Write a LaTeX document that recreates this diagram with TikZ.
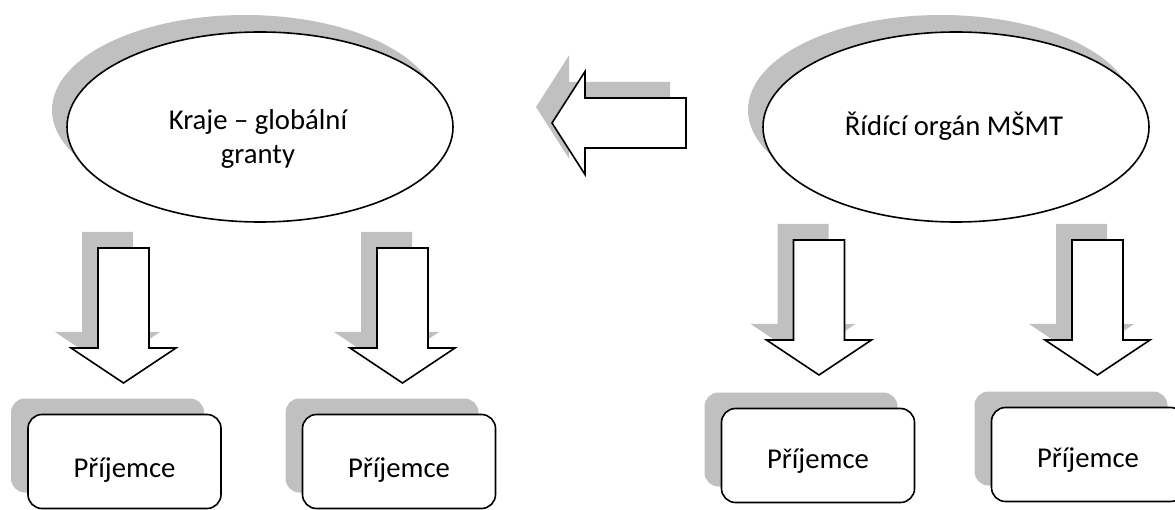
\documentclass[tikz,border=0pt]{standalone}
\usepackage{fontspec}
\setmainfont{Carlito}
\usetikzlibrary{shapes.geometric,shadows}
\definecolor{shade}{RGB}{192,192,192}
\tikzset{
  outl/.style={draw=black, line width=1.6pt, fill=white},
  oval/.style={outl, ellipse, minimum width=386pt, minimum height=190pt, inner sep=0pt,
    general shadow={fill=shade, shadow xshift=-15pt, shadow yshift=17pt}},
  recbox/.style={outl, rectangle, rounded corners=14pt, minimum width=193pt, minimum height=94pt, inner sep=0pt,
    general shadow={fill=shade, shadow xshift=-17pt, shadow yshift=16pt}},
  lbl/.style={font=\fontsize{28.7}{34.5}\selectfont, align=center, inner sep=0pt},
  pics/dnblk/.style={code={
    \path[fill=shade, shift={(-16,-16)}] (-25.5,0) -- (25.5,0) -- (25.5,100) -- (52.5,100) -- (0,135) -- (-52.5,100) -- (-25.5,100) -- cycle;
    \path[outl] (-25.5,0) -- (25.5,0) -- (25.5,100) -- (52.5,100) -- (0,135) -- (-52.5,100) -- (-25.5,100) -- cycle;
  }},
  pics/lfblk/.style={code={
    \path[fill=shade, shift={(-16,-16)}] (0,0) -- (33,-51.5) -- (33,-25) -- (134,-25) -- (134,25) -- (33,25) -- (33,51.5) -- cycle;
    \path[outl] (0,0) -- (33,-51.5) -- (33,-25) -- (134,-25) -- (134,25) -- (33,25) -- (33,51.5) -- cycle;
  }},
}
\begin{document}
\begin{tikzpicture}[x=1pt, y=-1pt]
  \useasboundingbox (0,0) rectangle (1175,510);
  \clip (0,0) rectangle (1175,510);

  % ellipses
  \node[oval] (kraje) at (260,127) {};
  \node[lbl] (krajet) at (258,139) {Kraje – globální\\granty};
  \node[oval] (ro) at (956,127) {};
  \node[lbl, anchor=base] (rot) at (954,136) {Řídící orgán MŠMT};

  % big left arrow
  \pic (bigarr) at (552,123) {lfblk};

  % down arrows
  \pic (a1) at (123.5,248) {dnblk};
  \pic (a2) at (402.5,248) {dnblk};
  \pic (a3) at (819,240) {dnblk};
  \pic (a4) at (1097.5,240) {dnblk};

  % boxes
  \node[recbox] (p1) at (124.5,461.5) {};
  \node[recbox] (p2) at (399,461.5) {};
  \node[recbox] (p3) at (818,455.5) {};
  \node[recbox] (p4) at (1088,454.5) {};
  \node[lbl, anchor=base] (p1t) at ([yshift=-15.5pt]p1.center) {Příjemce};
  \node[lbl, anchor=base] (p2t) at ([yshift=-15.5pt]p2.center) {Příjemce};
  \node[lbl, anchor=base] (p3t) at ([yshift=-12.5pt]p3.center) {Příjemce};
  \node[lbl, anchor=base] (p4t) at ([yshift=-12.5pt]p4.center) {Příjemce};
\end{tikzpicture}
\end{document}
